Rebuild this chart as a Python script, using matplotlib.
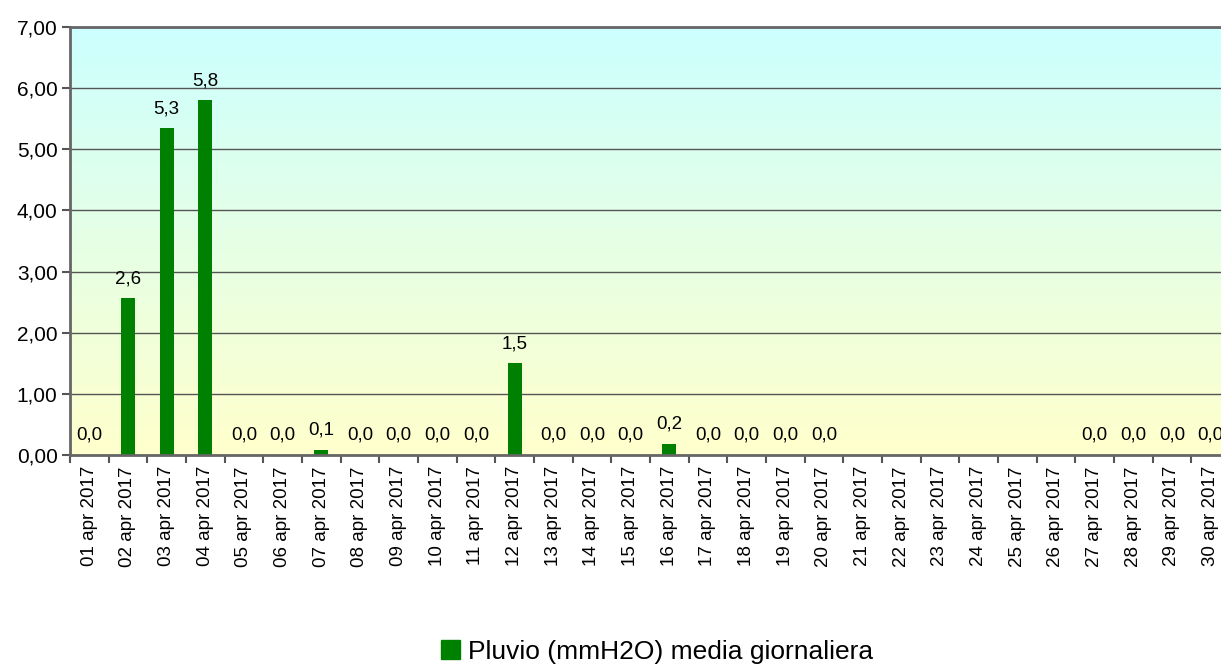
import numpy as np
import matplotlib.pyplot as plt
from matplotlib.colors import LinearSegmentedColormap

plt.rcParams['font.family'] = ['Liberation Sans', 'DejaVu Sans']

# dati giornalieri (NaN = dato mancante)
giorni = ['%02d apr 2017' % d for d in range(1, 31)]
pioggia = [0.0, 2.56, 5.34, 5.80, 0.0, 0.0, 0.08, 0.0, 0.0, 0.0,
           0.0, 1.50, 0.0, 0.0, 0.0, 0.18, 0.0, 0.0, 0.0, 0.0,
           np.nan, np.nan, np.nan, np.nan, np.nan, np.nan, 0.0, 0.0, 0.0, 0.0]
etichette_y = ['0,00', '1,00', '2,00', '3,00', '4,00', '5,00', '6,00', '7,00']

fig = plt.figure(figsize=(12.21, 6.66), dpi=100)
ax = fig.add_axes([70/1221, 1 - 455/666, 1160/1221, 428/666])

x = np.arange(len(giorni))
y = np.array(pioggia)

# sfondo sfumato giallo -> azzurro
cmap = LinearSegmentedColormap.from_list('sfondo', ['#FFFFCC', '#CCFFFF'])
grad = np.linspace(0, 1, 256).reshape(-1, 1)
ax.imshow(grad, aspect='auto', cmap=cmap, origin='lower',
          extent=[0, 1, 0, 1], transform=ax.transAxes, zorder=0)

for v in range(1, 8):
    ax.axhline(v, color='#555555', lw=1, zorder=1)

ax.bar(x, np.nan_to_num(y), width=0.36, color='#008000', zorder=2)

for xi, yi in zip(x, y):
    if np.isnan(yi):
        continue
    ax.annotate(('%.1f' % yi).replace('.', ','), (xi, yi), xytext=(0, 8),
                textcoords='offset points', ha='center', va='bottom',
                fontsize=13.5, color='black', zorder=3)

ax.set_xlim(-0.5, len(giorni) - 0.5)
ax.set_ylim(0, 7)
ax.set_yticks(range(8))
ax.set_yticklabels(etichette_y, fontsize=15)
ax.set_xticks(x)
ax.set_xticklabels(giorni, rotation=90, fontsize=13.5)
ax.set_xticks(np.arange(-0.5, len(giorni), 1), minor=True)
ax.tick_params(axis='x', which='major', length=0, pad=8)
ax.tick_params(axis='x', which='minor', length=6, width=1.5, color='#555555')
ax.tick_params(axis='y', length=6, width=1.5, color='#555555', pad=3)

for s in ['left', 'bottom', 'top']:
    ax.spines[s].set_color('#666666')
    ax.spines[s].set_linewidth(2)
ax.spines['right'].set_visible(False)

h = plt.Rectangle((0, 0), 1, 1, color='#008000')
fig.legend([h], ['Pluvio (mmH2O) media giornaliera'], loc='center',
           bbox_to_anchor=(657/1221, 1 - 652/666), frameon=False,
           fontsize=19, handlelength=0.75, handleheight=0.75, handletextpad=0.3)

fig.savefig('out.png', dpi=100)
